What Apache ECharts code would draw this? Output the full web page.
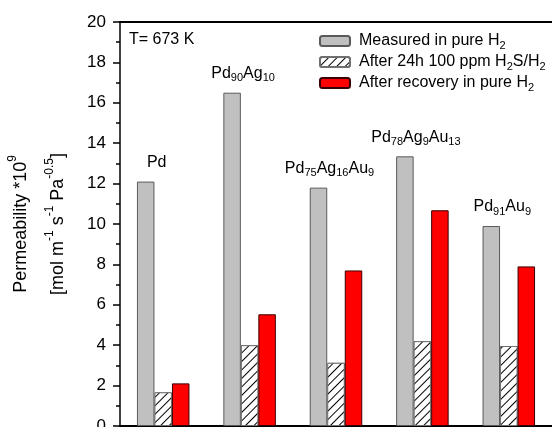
<!DOCTYPE html>
<html>
<head>
<meta charset="utf-8">
<script src="https://cdn.jsdelivr.net/npm/echarts@6/dist/echarts.min.js"></script>
<style>
  html, body { margin: 0; padding: 0; background: #fff; }
  #chart { width: 552px; height: 427px; }
</style>
</head>
<body>
<div id="chart"></div>
<script>
// alloys (x categories) and their labels with subscripts
var alloys = ['Pd', 'Pd90Ag10', 'Pd75Ag16Au9', 'Pd78Ag9Au13', 'Pd91Au9'];
var alloyLabels = [
  'Pd',
  'Pd{s|90}Ag{s|10}',
  'Pd{s|75}Ag{s|16}Au{s|9}',
  'Pd{s|78}Ag{s|9}Au{s|13}',
  'Pd{s|91}Au{s|9}'
];
// permeability *10^9 [mol m-1 s-1 Pa-0.5]
var pureH2 = [12.1, 16.5, 11.8, 13.35, 9.9];
var afterH2S = [1.67, 4.0, 3.13, 4.2, 3.96];
var recovered = [2.11, 5.53, 7.7, 10.68, 7.9];
var yTicks = { min: 0, max: 20, interval: 2 };

var seriesNames = ['Measured in pure H2', 'After 24h 100 ppm H2S/H2', 'After recovery in pure H2'];
var legendRich = {
  'Measured in pure H2': 'Measured in pure H{s|2}',
  'After 24h 100 ppm H2S/H2': 'After 24h 100 ppm H{s|2}S/H{s|2}',
  'After recovery in pure H2': 'After recovery in pure H{s|2}'
};
var yName = '{m|Permeability *10}{p|9}\n{m|[mol m}{p|-1}{m| s}{p|-1}{m| Pa}{p|-0.5}{m|]}';

var font = 'Liberation Sans, Arial, sans-serif';
// subscript token: sits lower than main text
var subStyle = { fontSize: 11, fontFamily: font, color: '#000', lineHeight: 10, verticalAlign: 'bottom' };

var chart = echarts.init(document.getElementById('chart'));

var option = {
  animation: false,
  textStyle: { fontFamily: font },
  title: {
    text: 'T= 673 K',
    left: 129,
    top: 32,
    padding: 0,
    textStyle: { fontSize: 16, fontWeight: 'normal', color: '#000', fontFamily: font }
  },
  legend: {
    orient: 'vertical',
    left: 319,
    top: 31,
    padding: 0,
    itemWidth: 30,
    itemHeight: 10,
    itemGap: 1,
    data: seriesNames,
    formatter: function (name) { return legendRich[name]; },
    textStyle: {
      fontSize: 16,
      color: '#000',
      fontFamily: font,
      lineHeight: 20,
      padding: [0, 0, 0, 4],
      rich: { s: subStyle }
    }
  },
  grid: { left: 120, right: 0, top: 22, bottom: 1, containLabel: false, outerBoundsMode: 'none' },
  xAxis: [
    {
      type: 'category',
      data: alloys,
      axisLine: { lineStyle: { color: '#000', width: 2 } },
      axisTick: { show: false },
      axisLabel: { show: false }
    },
    {
      type: 'category',
      position: 'top',
      data: alloys,
      axisLine: { lineStyle: { color: '#000', width: 2 } },
      axisTick: { show: false },
      axisLabel: { show: false }
    }
  ],
  yAxis: {
    type: 'value',
    min: yTicks.min,
    max: yTicks.max,
    interval: yTicks.interval,
    name: yName,
    nameLocation: 'middle',
    nameRotate: 90,
    nameGap: 42,
    nameTextStyle: {
      fontSize: 18,
      color: '#000',
      fontFamily: font,
      lineHeight: 37,
      rich: {
        m: { fontSize: 18, fontFamily: font, color: '#000', lineHeight: 37, verticalAlign: 'middle' },
        p: { fontSize: 12, fontFamily: font, color: '#000', verticalAlign: 'top', padding: [4, 0, 0, 0] }
      }
    },
    axisLine: { show: true, lineStyle: { color: '#000', width: 1.5 } },
    axisTick: { show: true, inside: false, length: 7, lineStyle: { color: '#000', width: 1.5 } },
    minorTick: { show: true, splitNumber: 2, length: 4, lineStyle: { color: '#000', width: 1.5 } },
    splitLine: { show: false },
    axisLabel: { fontSize: 17, color: '#000', fontFamily: font, margin: 14 }
  },
  series: [
    {
      name: seriesNames[0],
      type: 'bar',
      data: pureH2,
      barWidth: 17.5,
      barGap: '0%',
      itemStyle: { color: '#c0c0c0', borderColor: '#5a5a5a', borderWidth: 1 },
      label: {
        show: true,
        position: 'top',
        distance: 9,
        offset: [11, 0],
        formatter: function (p) { return alloyLabels[p.dataIndex]; },
        fontSize: 16,
        color: '#000',
        fontFamily: font,
        lineHeight: 20,
        rich: { s: subStyle }
      }
    },
    {
      name: seriesNames[1],
      type: 'bar',
      data: afterH2S,
      barWidth: 17.5,
      barGap: '0%',
      itemStyle: {
        color: '#ffffff',
        borderColor: '#707070',
        borderWidth: 1,
        decal: {
          symbol: 'rect',
          symbolSize: 1,
          dashArrayX: [1, 0],
          dashArrayY: [1, 5],
          rotation: -Math.PI / 4,
          color: '#000',
          backgroundColor: '#ffffff'
        }
      }
    },
    {
      name: seriesNames[2],
      type: 'bar',
      data: recovered,
      barWidth: 17.5,
      barGap: '0%',
      itemStyle: { color: '#ff0000', borderColor: '#3a0000', borderWidth: 1 }
    }
  ]
};

chart.setOption(option);
</script>
</body>
</html>
